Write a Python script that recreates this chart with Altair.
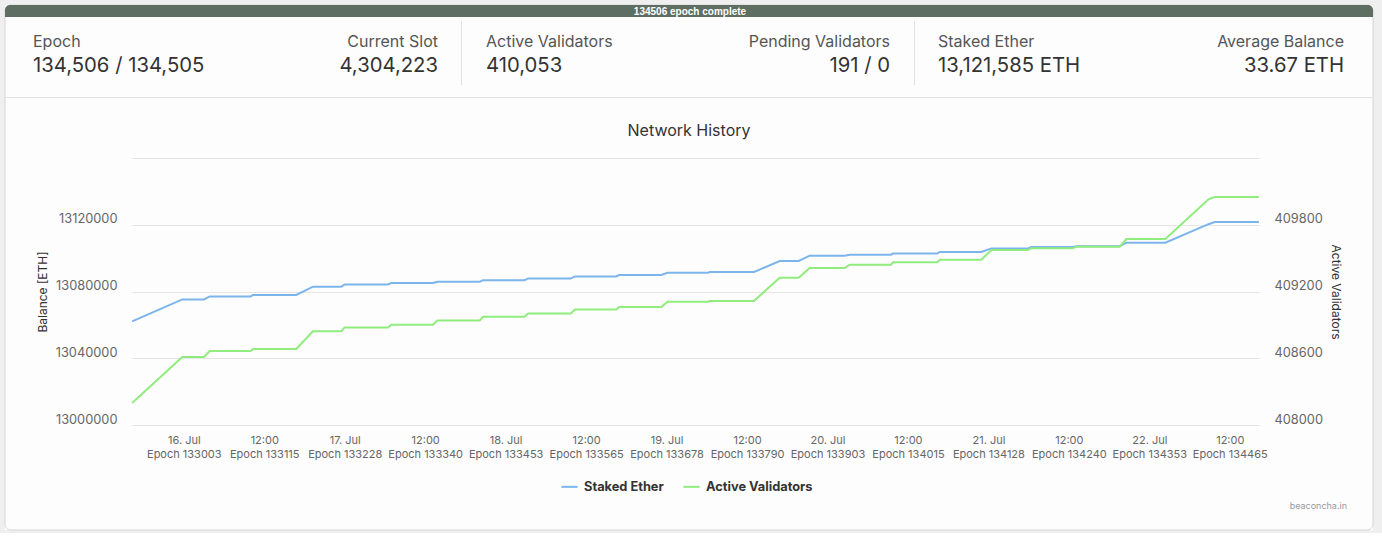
import altair as alt
import pandas as pd

# ---------------- data ----------------
times = [
    "2022-07-15T16:13:00Z", "2022-07-15T23:42:00Z", "2022-07-16T02:56:00Z", "2022-07-16T03:47:00Z",
    "2022-07-16T09:54:00Z", "2022-07-16T10:15:00Z", "2022-07-16T16:42:00Z", "2022-07-16T19:11:00Z",
    "2022-07-16T23:25:00Z", "2022-07-16T23:55:00Z", "2022-07-17T06:23:00Z", "2022-07-17T06:52:00Z",
    "2022-07-17T13:05:00Z", "2022-07-17T13:44:00Z", "2022-07-17T20:04:00Z", "2022-07-17T20:33:00Z",
    "2022-07-18T02:44:00Z", "2022-07-18T03:18:00Z", "2022-07-18T09:38:00Z", "2022-07-18T10:16:00Z",
    "2022-07-18T16:26:00Z", "2022-07-18T16:50:00Z", "2022-07-18T23:08:00Z", "2022-07-19T00:04:00Z",
    "2022-07-19T06:07:00Z", "2022-07-19T06:22:00Z", "2022-07-19T12:58:00Z", "2022-07-19T16:48:00Z",
    "2022-07-19T19:38:00Z", "2022-07-19T21:16:00Z", "2022-07-20T02:29:00Z", "2022-07-20T03:14:00Z",
    "2022-07-20T09:24:00Z", "2022-07-20T09:42:00Z", "2022-07-20T16:18:00Z", "2022-07-20T16:40:00Z",
    "2022-07-20T22:52:00Z", "2022-07-21T00:23:00Z", "2022-07-21T05:50:00Z", "2022-07-21T06:19:00Z",
    "2022-07-21T12:32:00Z", "2022-07-21T13:02:00Z", "2022-07-21T19:31:00Z", "2022-07-21T20:31:00Z",
    "2022-07-22T02:19:00Z", "2022-07-22T08:45:00Z", "2022-07-22T09:41:00Z", "2022-07-22T16:16:00Z",
]
staked_ether = [
    13062100, 13075270, 13075270, 13077060, 13077060, 13077900, 13077900, 13082880,
    13082880, 13084250, 13084250, 13085090, 13085090, 13085870, 13085870, 13086770,
    13086770, 13087850, 13087850, 13089050, 13089050, 13089890, 13089890, 13091270,
    13091270, 13091690, 13091690, 13098280, 13098280, 13101450, 13101450, 13102050,
    13102050, 13102830, 13102830, 13103670, 13103670, 13105830, 13105830, 13106670,
    13106670, 13107100, 13107100, 13109240, 13109240, 13120330, 13121600, 13121600,
]
active_validators = [
    408198, 408611, 408611, 408665, 408665, 408683, 408683, 408843,
    408843, 408877, 408877, 408902, 408902, 408940, 408940, 408972,
    408972, 409003, 409003, 409039, 409039, 409061, 409061, 409108,
    409108, 409115, 409115, 409324, 409324, 409411, 409411, 409441,
    409441, 409462, 409462, 409486, 409486, 409573, 409573, 409589,
    409589, 409603, 409603, 409672, 409672, 410028, 410050, 410050,
]
series_names = ["Staked Ether", "Active Validators"]
series_colors = ["#7cb5ec", "#90ed7d"]

tick_times = [
    "2022-07-16T00:00:00Z", "2022-07-16T12:00:00Z", "2022-07-17T00:00:00Z", "2022-07-17T12:00:00Z",
    "2022-07-18T00:00:00Z", "2022-07-18T12:00:00Z", "2022-07-19T00:00:00Z", "2022-07-19T12:00:00Z",
    "2022-07-20T00:00:00Z", "2022-07-20T12:00:00Z", "2022-07-21T00:00:00Z", "2022-07-21T12:00:00Z",
    "2022-07-22T00:00:00Z", "2022-07-22T12:00:00Z",
]
tick_day_labels = ["16. Jul", "12:00", "17. Jul", "12:00", "18. Jul", "12:00", "19. Jul",
                   "12:00", "20. Jul", "12:00", "21. Jul", "12:00", "22. Jul", "12:00"]
tick_epoch_labels = ["Epoch 133003", "Epoch 133115", "Epoch 133228", "Epoch 133340",
                     "Epoch 133453", "Epoch 133565", "Epoch 133678", "Epoch 133790",
                     "Epoch 133903", "Epoch 134015", "Epoch 134128", "Epoch 134240",
                     "Epoch 134353", "Epoch 134465"]

balance_ticks = [13000000, 13040000, 13080000, 13120000, 13160000]
validator_ticks = [408000, 408600, 409200, 409800, 410400]

stat_labels = ["Epoch", "Current Slot", "Active Validators", "Pending Validators",
               "Staked Ether", "Average Balance"]
stat_values = ["134,506 / 134,505", "4,304,223", "410,053", "191 / 0",
               "13,121,585 ETH", "33.67 ETH"]
status_text = "134506 epoch complete"
chart_title = "Network History"
credit_text = "beaconcha.in"

# ---------------- layout ----------------
PAGE_W, PAGE_H = 1382, 533
OX, OY = 132, 158          # plot origin on the page
W, H = 1127, 267           # plot area
PAGE_BG = "#efefef"
CARD_BG = "#fdfdfd"


def px(x):
    return x - OX


def py(y):
    return y - OY


FONT = "Inter"
dummy = alt.Data(values=[{"k": 0}])

layers = []


def strip(x0, x1, y0, y1):
    return alt.Chart(dummy).mark_rect(fill=PAGE_BG).encode(
        x=alt.value(px(x0)), x2=alt.value(px(x1)), y=alt.value(py(y0)), y2=alt.value(py(y1)))


# page margins around the card (the chart background is the card colour)
layers += [strip(0, PAGE_W, 0, 5), strip(0, PAGE_W, 530, PAGE_H),
           strip(0, 5, 0, PAGE_H), strip(1373, PAGE_W, 0, PAGE_H)]
# card border
layers.append(alt.Chart(dummy).mark_rect(fillOpacity=0, stroke="#d6d6d6", strokeWidth=1, cornerRadius=6).encode(
    x=alt.value(px(5)), x2=alt.value(px(1373)), y=alt.value(py(5)), y2=alt.value(py(530))))
# status bar
layers.append(alt.Chart(dummy).mark_rect(fill="#5e6e62", cornerRadiusTopLeft=5, cornerRadiusTopRight=5).encode(
    x=alt.value(px(5)), x2=alt.value(px(1373)), y=alt.value(py(5)), y2=alt.value(py(17))))
layers.append(alt.Chart(dummy).mark_text(color="white", fontSize=10, fontWeight="bold", font="Liberation Sans",
                                         align="center", baseline="middle").encode(
    x=alt.value(px(690)), y=alt.value(py(11.5)), text=alt.value(status_text)))
# separators
layers.append(alt.Chart(dummy).mark_rule(color="#e2e2e2", strokeWidth=1).encode(
    x=alt.value(px(5)), x2=alt.value(px(1373)), y=alt.value(py(97.5))))
for dx in (461.5, 914.5):
    layers.append(alt.Chart(dummy).mark_rule(color="#e2e2e2", strokeWidth=1).encode(
        x=alt.value(px(dx)), y=alt.value(py(21)), y2=alt.value(py(85))))

# stats
stat_x = [33, 438, 486, 890, 938, 1344]
for i, (lab, val) in enumerate(zip(stat_labels, stat_values)):
    al = "left" if i % 2 == 0 else "right"
    layers.append(alt.Chart(dummy).mark_text(fontSize=16, color="#555555", align=al, baseline="alphabetic",
                                             font=FONT).encode(
        x=alt.value(px(stat_x[i])), y=alt.value(py(47)), text=alt.value(lab)))
    layers.append(alt.Chart(dummy).mark_text(fontSize=20.3, color="#333333", align=al, baseline="alphabetic",
                                             font=FONT).encode(
        x=alt.value(px(stat_x[i])), y=alt.value(py(72)), text=alt.value(val)))

# title and credits
layers.append(alt.Chart(dummy).mark_text(fontSize=16, color="#333333", align="center", baseline="middle",
                                         font=FONT).encode(
    x=alt.value(px(689)), y=alt.value(py(131)), text=alt.value(chart_title)))
layers.append(alt.Chart(dummy).mark_text(fontSize=9, color="#999999", align="right", baseline="middle",
                                         font=FONT).encode(
    x=alt.value(px(1347)), y=alt.value(py(506)), text=alt.value(credit_text)))

# ---------------- chart ----------------
xscale = alt.Scale(type="utc", nice=False, domain=[
    alt.DateTime(year=2022, month=7, date=15, hours=16, minutes=12, utc=True),
    alt.DateTime(year=2022, month=7, date=22, hours=16, minutes=17, utc=True)])
tick_ms = [int(pd.Timestamp(t).timestamp() * 1000) for t in tick_times]

color = alt.Color("series:N", scale=alt.Scale(domain=series_names, range=series_colors),
                  legend=alt.Legend(orient="none", legendX=px(560), legendY=py(477), direction="horizontal",
                                    title=None, symbolType="stroke", symbolStrokeWidth=2, symbolSize=260,
                                    labelFontSize=12.8, labelFontWeight="bold", labelColor="#333333",
                                    columnPadding=15, labelOffset=5))

df_eth = pd.DataFrame({"time": times, "value": staked_ether, "series": series_names[0]})
df_val = pd.DataFrame({"time": times, "value": active_validators, "series": series_names[1]})
df_ticks = pd.DataFrame({"time": tick_times, "day": tick_day_labels, "epoch": tick_epoch_labels})

eth_line = alt.Chart(df_eth).mark_line(strokeWidth=2).encode(
    x=alt.X("time:T", scale=xscale,
            axis=alt.Axis(values=tick_ms, labels=False, grid=False, domainColor="#ccd6eb",
                          tickColor="#ccd6eb", tickSize=10, title=None)),
    y=alt.Y("value:Q", scale=alt.Scale(domain=[13000000, 13160000], nice=False, zero=False),
            axis=alt.Axis(orient="left", values=balance_ticks, format="d",
                          labelExpr="datum.value >= 13160000 ? '' : datum.label",
                          grid=True, gridColor="#e6e6e6", domain=False, ticks=False,
                          labelPadding=15, labelFontSize=12.8, labelColor="#666666",
                          labelBaseline="alphabetic", labelOffset=-2,
                          title="Balance [ETH]", titleFontSize=12, titleFontWeight="normal",
                          titleColor="#333333", titleX=-90, titleY=H / 2, titleBaseline="middle")),
    color=color,
)
val_line = alt.Chart(df_val).mark_line(strokeWidth=2).encode(
    x=alt.X("time:T", scale=xscale, axis=None),
    y=alt.Y("value:Q", scale=alt.Scale(domain=[408000, 410400], nice=False, zero=False),
            axis=alt.Axis(orient="right", values=validator_ticks, format="d",
                          labelExpr="datum.value >= 410400 ? '' : datum.label",
                          grid=False, domain=False, ticks=False,
                          labelPadding=15, labelFontSize=12.8, labelColor="#666666",
                          labelBaseline="alphabetic", labelOffset=-2,
                          title="Active Validators", titleFontSize=12, titleFontWeight="normal",
                          titleColor="#333333", titleX=76, titleY=H / 2, titleBaseline="middle",
                          titleAngle=90)),
    color=color,
)
day_text = alt.Chart(df_ticks).mark_text(fontSize=11, color="#666666", baseline="middle", font=FONT).encode(
    x=alt.X("time:T", scale=xscale, axis=None), y=alt.value(py(441)), text="day:N")
epoch_text = alt.Chart(df_ticks).mark_text(fontSize=11, color="#666666", baseline="middle", font=FONT).encode(
    x=alt.X("time:T", scale=xscale, axis=None), y=alt.value(py(455)), text="epoch:N")

layers += [eth_line, val_line, day_text, epoch_text]

chart = alt.layer(*layers).resolve_scale(y="independent").properties(
    width=W, height=H,
    autosize=alt.AutoSizeParams(type="none"),
    padding={"left": OX, "top": OY, "right": PAGE_W - OX - W, "bottom": PAGE_H - OY - H},
    background=CARD_BG,
).configure_view(stroke=None).configure_axis(labelFont=FONT, titleFont=FONT).configure_legend(labelFont=FONT)

chart.save("out.html", embed_options={"renderer": "svg", "actions": False})
